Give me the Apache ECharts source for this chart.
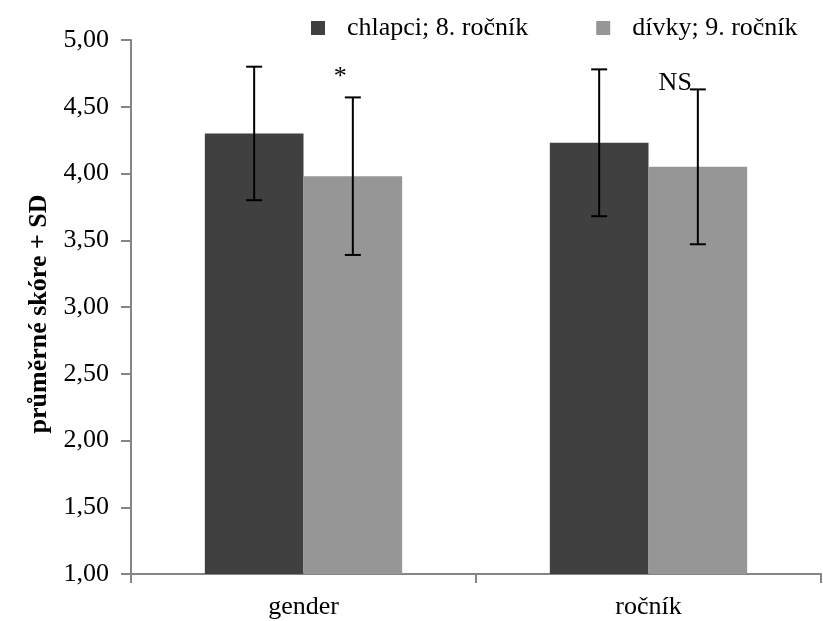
<!DOCTYPE html>
<html>
<head>
<meta charset="utf-8">
<script src="https://cdn.jsdelivr.net/npm/echarts@6/dist/echarts.min.js"></script>
<style>html,body{margin:0;padding:0;background:#fff}#c{width:823px;height:621px}</style>
</head>
<body>
<div id="c"></div>
<script>
const categories = ['gender', 'ročník'];
const seriesNames = ['chlapci; 8. ročník', 'dívky; 9. ročník'];
const meanBoys = [4.30, 4.23];
const meanGirls = [3.98, 4.05];
const sdBoys = [0.50, 0.55];
const sdGirls = [0.59, 0.58];
const annotations = ['*', 'NS'];
const yAxisTitle = 'průměrné skóre + SD';

const FONT = '"Liberation Serif", "Times New Roman", serif';
const colors = ['#404040', '#969696'];
const barRatio = 0.286;
// annotation pixel offsets (style only)
const annotDy = [-7, 7];

const errData = [];
[meanBoys, meanGirls].forEach((means, s) => {
  const sds = s === 0 ? sdBoys : sdGirls;
  means.forEach((m, i) => {
    errData.push([i, m - sds[i], m + sds[i], s, s === 1 ? annotations[i] : '']);
  });
});

const chart = echarts.init(document.getElementById('c'), null, {renderer: 'canvas'});
chart.setOption({
  animation: false,
  backgroundColor: '#fff',
  textStyle: {fontFamily: FONT},
  grid: {left: 131, right: 2, top: 40, bottom: 47, containLabel: false},
  legend: {
    data: seriesNames,
    left: 311, top: 15, padding: 0,
    itemWidth: 14, itemHeight: 14, itemGap: 68,
    icon: 'rect',
    textStyle: {fontFamily: FONT, fontSize: 26, color: '#000', padding: [0, 0, 0, 17]}
  },
  xAxis: {
    type: 'category',
    data: categories,
    axisLine: {lineStyle: {color: '#858585', width: 2}},
    axisTick: {show: true, length: 9, lineStyle: {color: '#858585', width: 2}},
    axisLabel: {fontFamily: FONT, fontSize: 26, color: '#000', margin: 20}
  },
  yAxis: {
    type: 'value',
    min: 1, max: 5, interval: 0.5,
    name: yAxisTitle,
    nameLocation: 'middle',
    nameGap: 75,
    nameTextStyle: {fontFamily: FONT, fontSize: 26, fontWeight: 'bold', color: '#000', padding: [0, 14, 0, 0]},
    splitLine: {show: false},
    axisLine: {show: true, lineStyle: {color: '#858585', width: 2}},
    axisTick: {show: true, length: 10, lineStyle: {color: '#858585', width: 2}},
    axisLabel: {fontFamily: FONT, fontSize: 26, color: '#000', margin: 22,
      formatter: v => v.toFixed(2).replace('.', ',')}
  },
  series: [
    {name: seriesNames[0], type: 'bar', data: meanBoys, barWidth: (barRatio * 100) + '%', barGap: '0%',
      itemStyle: {color: colors[0]}, z: 2},
    {name: seriesNames[1], type: 'bar', data: meanGirls, barWidth: (barRatio * 100) + '%', barGap: '0%',
      itemStyle: {color: colors[1]}, z: 2},
    {
      type: 'custom',
      z: 5,
      data: errData,
      encode: {x: 0, y: [1, 2]},
      renderItem: function (params, api) {
        const cat = api.value(0);
        const lo = api.coord([cat, api.value(1)]);
        const hi = api.coord([cat, api.value(2)]);
        const s = api.value(3);
        const bw = api.size([1, 0])[0] * barRatio;
        const x = lo[0] + (s === 0 ? -bw / 2 : bw / 2);
        const half = 8;
        const st = {stroke: '#000', lineWidth: 2};
        const children = [
          {type: 'line', shape: {x1: x, y1: lo[1], x2: x, y2: hi[1]}, style: st},
          {type: 'line', shape: {x1: x - half, y1: lo[1], x2: x + half, y2: lo[1]}, style: st},
          {type: 'line', shape: {x1: x - half, y1: hi[1], x2: x + half, y2: hi[1]}, style: st}
        ];
        const txt = errData[params.dataIndex][4];
        if (txt) {
          children.push({type: 'text', style: {text: txt, x: x - half + 2, y: hi[1] + annotDy[cat],
            align: 'right', verticalAlign: 'bottom', font: '26px ' + FONT, fill: '#000'}});
        }
        return {type: 'group', children};
      }
    }
  ]
});
</script>
</body>
</html>
